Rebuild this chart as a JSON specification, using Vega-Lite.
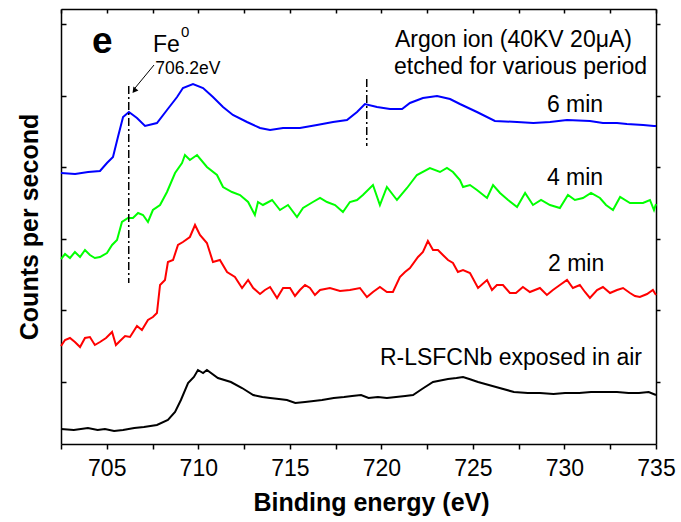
{
  "$schema": "https://vega.github.io/schema/vega-lite/v6.json",
  "width": 595,
  "height": 435,
  "padding": {"left": 61, "top": 9, "right": 25, "bottom": 78},
  "autosize": {"type": "none"},
  "config": {
    "view": {"stroke": null},
    "font": "Liberation Sans",
    "axis": {"domainColor": "black", "domainWidth": 1.5, "tickColor": "black", "tickWidth": 1.5, "grid": false, "labelColor": "black", "titleColor": "black", "labelFont": "Liberation Sans", "titleFont": "Liberation Sans"}
  },
  "datasets": {
    "spectra": [
      {"series":"6 min","energy":702.5,"counts":271},{"series":"6 min","energy":703.27,"counts":270},{"series":"6 min","energy":703.98,"counts":272},{"series":"6 min","energy":704.63,"counts":273},{"series":"6 min","energy":705.01,"counts":281},{"series":"6 min","energy":705.34,"counts":287},{"series":"6 min","energy":705.61,"counts":307},{"series":"6 min","energy":705.89,"counts":327},{"series":"6 min","energy":706.21,"counts":332},{"series":"6 min","energy":706.65,"counts":326},{"series":"6 min","energy":707.09,"counts":318},{"series":"6 min","energy":707.74,"counts":321},{"series":"6 min","energy":708.29,"counts":334},{"series":"6 min","energy":708.84,"counts":347},{"series":"6 min","energy":709.16,"counts":356},{"series":"6 min","energy":709.71,"counts":360},{"series":"6 min","energy":710.26,"counts":356},{"series":"6 min","energy":710.8,"counts":347},{"series":"6 min","energy":711.35,"counts":337},{"series":"6 min","energy":711.89,"counts":329},{"series":"6 min","energy":712.66,"counts":322},{"series":"6 min","energy":713.37,"counts":316},{"series":"6 min","energy":713.92,"counts":314},{"series":"6 min","energy":714.63,"counts":316},{"series":"6 min","energy":715.55,"counts":316},{"series":"6 min","energy":716.48,"counts":319},{"series":"6 min","energy":717.36,"counts":322},{"series":"6 min","energy":718.12,"counts":324},{"series":"6 min","energy":718.67,"counts":332},{"series":"6 min","energy":719.1,"counts":340},{"series":"6 min","energy":719.76,"counts":337},{"series":"6 min","energy":720.47,"counts":335},{"series":"6 min","energy":721.13,"counts":335},{"series":"6 min","energy":721.56,"counts":341},{"series":"6 min","energy":722.27,"counts":346},{"series":"6 min","energy":723.04,"counts":348},{"series":"6 min","energy":723.75,"counts":345},{"series":"6 min","energy":724.29,"counts":340},{"series":"6 min","energy":725.22,"counts":332},{"series":"6 min","energy":726.2,"counts":323},{"series":"6 min","energy":727.41,"counts":322},{"series":"6 min","energy":728.3,"counts":321},{"series":"6 min","energy":729.21,"counts":322},{"series":"6 min","energy":730.14,"counts":324},{"series":"6 min","energy":731.39,"counts":323},{"series":"6 min","energy":732.1,"counts":321},{"series":"6 min","energy":732.87,"counts":321},{"series":"6 min","energy":733.41,"counts":320},{"series":"6 min","energy":734.3,"counts":319},{"series":"6 min","energy":734.89,"counts":318},{"series":"6 min","energy":735,"counts":318},
      {"series":"4 min","energy":702.5,"counts":185},{"series":"4 min","energy":702.72,"counts":190},{"series":"4 min","energy":702.99,"counts":186},{"series":"4 min","energy":703.26,"counts":192},{"series":"4 min","energy":703.54,"counts":187},{"series":"4 min","energy":703.81,"counts":194},{"series":"4 min","energy":704.08,"counts":189},{"series":"4 min","energy":704.35,"counts":186},{"series":"4 min","energy":704.63,"counts":187},{"series":"4 min","energy":705.01,"counts":191},{"series":"4 min","energy":705.29,"counts":199},{"series":"4 min","energy":705.56,"counts":204},{"series":"4 min","energy":705.83,"counts":222},{"series":"4 min","energy":706.16,"counts":226},{"series":"4 min","energy":706.43,"counts":226},{"series":"4 min","energy":706.71,"counts":231},{"series":"4 min","energy":706.98,"counts":229},{"series":"4 min","energy":707.25,"counts":222},{"series":"4 min","energy":707.52,"counts":234},{"series":"4 min","energy":707.91,"counts":239},{"series":"4 min","energy":708.29,"counts":252},{"series":"4 min","energy":708.73,"counts":271},{"series":"4 min","energy":709.11,"counts":281},{"series":"4 min","energy":709.27,"counts":289},{"series":"4 min","energy":709.54,"counts":284},{"series":"4 min","energy":709.93,"counts":289},{"series":"4 min","energy":710.47,"counts":277},{"series":"4 min","energy":711.02,"counts":269},{"series":"4 min","energy":711.35,"counts":257},{"series":"4 min","energy":711.84,"counts":252},{"series":"4 min","energy":712.28,"counts":249},{"series":"4 min","energy":712.72,"counts":242},{"series":"4 min","energy":713.09,"counts":229},{"series":"4 min","energy":713.26,"counts":242},{"series":"4 min","energy":713.53,"counts":239},{"series":"4 min","energy":714.03,"counts":244},{"series":"4 min","energy":714.46,"counts":234},{"series":"4 min","energy":714.9,"counts":239},{"series":"4 min","energy":715.39,"counts":227},{"series":"4 min","energy":715.72,"counts":236},{"series":"4 min","energy":716.26,"counts":242},{"series":"4 min","energy":716.65,"counts":246},{"series":"4 min","energy":717.03,"counts":242},{"series":"4 min","energy":717.47,"counts":239},{"series":"4 min","energy":717.9,"counts":232},{"series":"4 min","energy":718.28,"counts":242},{"series":"4 min","energy":718.67,"counts":244},{"series":"4 min","energy":718.99,"counts":249},{"series":"4 min","energy":719.54,"counts":259},{"series":"4 min","energy":719.92,"counts":239},{"series":"4 min","energy":720.3,"counts":257},{"series":"4 min","energy":720.85,"counts":244},{"series":"4 min","energy":721.4,"counts":256},{"series":"4 min","energy":721.94,"counts":269},{"series":"4 min","energy":722.65,"counts":276},{"series":"4 min","energy":723.2,"counts":272},{"series":"4 min","energy":723.58,"counts":276},{"series":"4 min","energy":723.91,"counts":272},{"series":"4 min","energy":724.29,"counts":264},{"series":"4 min","energy":724.46,"counts":257},{"series":"4 min","energy":724.84,"counts":259},{"series":"4 min","energy":725.22,"counts":254},{"series":"4 min","energy":725.77,"counts":246},{"series":"4 min","energy":726.1,"counts":259},{"series":"4 min","energy":726.48,"counts":251},{"series":"4 min","energy":726.92,"counts":244},{"series":"4 min","energy":727.41,"counts":237},{"series":"4 min","energy":727.85,"counts":251},{"series":"4 min","energy":728.28,"counts":239},{"series":"4 min","energy":728.72,"counts":244},{"series":"4 min","energy":729.21,"counts":239},{"series":"4 min","energy":729.75,"counts":236},{"series":"4 min","energy":730.19,"counts":249},{"series":"4 min","energy":730.57,"counts":244},{"series":"4 min","energy":731.01,"counts":246},{"series":"4 min","energy":731.45,"counts":251},{"series":"4 min","energy":731.94,"counts":246},{"series":"4 min","energy":732.27,"counts":239},{"series":"4 min","energy":732.65,"counts":234},{"series":"4 min","energy":733.04,"counts":247},{"series":"4 min","energy":733.58,"counts":241},{"series":"4 min","energy":734.29,"counts":241},{"series":"4 min","energy":734.67,"counts":244},{"series":"4 min","energy":734.89,"counts":234},{"series":"4 min","energy":735,"counts":240},
      {"series":"2 min","energy":702.5,"counts":98},{"series":"2 min","energy":702.72,"counts":104},{"series":"2 min","energy":702.99,"counts":106},{"series":"2 min","energy":703.26,"counts":102},{"series":"2 min","energy":703.54,"counts":97},{"series":"2 min","energy":703.81,"counts":106},{"series":"2 min","energy":704.08,"counts":107},{"series":"2 min","energy":704.35,"counts":99},{"series":"2 min","energy":704.63,"counts":102},{"series":"2 min","energy":704.96,"counts":106},{"series":"2 min","energy":705.29,"counts":112},{"series":"2 min","energy":705.5,"counts":99},{"series":"2 min","energy":705.72,"counts":103},{"series":"2 min","energy":706.0,"counts":108},{"series":"2 min","energy":706.27,"counts":107},{"series":"2 min","energy":706.65,"counts":118},{"series":"2 min","energy":706.92,"counts":114},{"series":"2 min","energy":707.25,"counts":124},{"series":"2 min","energy":707.52,"counts":127},{"series":"2 min","energy":707.74,"counts":131},{"series":"2 min","energy":707.91,"counts":159},{"series":"2 min","energy":708.18,"counts":164},{"series":"2 min","energy":708.34,"counts":182},{"series":"2 min","energy":708.62,"counts":184},{"series":"2 min","energy":708.89,"counts":199},{"series":"2 min","energy":709.16,"counts":202},{"series":"2 min","energy":709.54,"counts":207},{"series":"2 min","energy":709.82,"counts":219},{"series":"2 min","energy":710.09,"counts":209},{"series":"2 min","energy":710.47,"counts":201},{"series":"2 min","energy":710.8,"counts":182},{"series":"2 min","energy":711.18,"counts":184},{"series":"2 min","energy":711.57,"counts":172},{"series":"2 min","energy":712.0,"counts":167},{"series":"2 min","energy":712.39,"counts":156},{"series":"2 min","energy":712.72,"counts":164},{"series":"2 min","energy":713.0,"counts":156},{"series":"2 min","energy":713.37,"counts":150},{"series":"2 min","energy":713.64,"counts":154},{"series":"2 min","energy":713.92,"counts":157},{"series":"2 min","energy":714.3,"counts":146},{"series":"2 min","energy":714.63,"counts":156},{"series":"2 min","energy":715.01,"counts":156},{"series":"2 min","energy":715.28,"counts":148},{"series":"2 min","energy":715.55,"counts":154},{"series":"2 min","energy":715.83,"counts":159},{"series":"2 min","energy":716.1,"counts":156},{"series":"2 min","energy":716.37,"counts":149},{"series":"2 min","energy":716.65,"counts":154},{"series":"2 min","energy":717.19,"counts":156},{"series":"2 min","energy":717.74,"counts":153},{"series":"2 min","energy":718.28,"counts":154},{"series":"2 min","energy":718.83,"counts":156},{"series":"2 min","energy":719.21,"counts":147},{"series":"2 min","energy":719.54,"counts":152},{"series":"2 min","energy":719.92,"counts":157},{"series":"2 min","energy":720.3,"counts":152},{"series":"2 min","energy":720.63,"counts":152},{"series":"2 min","energy":721.01,"counts":167},{"series":"2 min","energy":721.29,"counts":172},{"series":"2 min","energy":721.56,"counts":176},{"series":"2 min","energy":722.0,"counts":187},{"series":"2 min","energy":722.27,"counts":192},{"series":"2 min","energy":722.54,"counts":203},{"series":"2 min","energy":722.82,"counts":194},{"series":"2 min","energy":723.09,"counts":194},{"series":"2 min","energy":723.36,"counts":189},{"series":"2 min","energy":723.64,"counts":184},{"series":"2 min","energy":723.91,"counts":181},{"series":"2 min","energy":724.18,"counts":172},{"series":"2 min","energy":724.46,"counts":174},{"series":"2 min","energy":724.84,"counts":171},{"series":"2 min","energy":725.28,"counts":156},{"series":"2 min","energy":725.77,"counts":164},{"series":"2 min","energy":726.04,"counts":154},{"series":"2 min","energy":726.31,"counts":159},{"series":"2 min","energy":726.64,"counts":159},{"series":"2 min","energy":727.02,"counts":151},{"series":"2 min","energy":727.35,"counts":151},{"series":"2 min","energy":727.73,"counts":157},{"series":"2 min","energy":728.11,"counts":152},{"series":"2 min","energy":728.66,"counts":156},{"series":"2 min","energy":729.04,"counts":149},{"series":"2 min","energy":729.37,"counts":154},{"series":"2 min","energy":729.75,"counts":159},{"series":"2 min","energy":730.14,"counts":164},{"series":"2 min","energy":730.46,"counts":156},{"series":"2 min","energy":730.84,"counts":159},{"series":"2 min","energy":731.12,"counts":152},{"series":"2 min","energy":731.39,"counts":146},{"series":"2 min","energy":731.78,"counts":154},{"series":"2 min","energy":732.1,"counts":157},{"series":"2 min","energy":732.49,"counts":151},{"series":"2 min","energy":732.87,"counts":154},{"series":"2 min","energy":733.2,"counts":156},{"series":"2 min","energy":733.58,"counts":151},{"series":"2 min","energy":733.85,"counts":148},{"series":"2 min","energy":734.12,"counts":147},{"series":"2 min","energy":734.51,"counts":150},{"series":"2 min","energy":734.83,"counts":154},{"series":"2 min","energy":735,"counts":149},
      {"series":"air","energy":702.5,"counts":15},{"series":"air","energy":703.2,"counts":14},{"series":"air","energy":703.97,"counts":16},{"series":"air","energy":704.5,"counts":14},{"series":"air","energy":704.9,"counts":15},{"series":"air","energy":705.4,"counts":13},{"series":"air","energy":705.89,"counts":14},{"series":"air","energy":706.5,"counts":16},{"series":"air","energy":707.03,"counts":17},{"series":"air","energy":707.74,"counts":19},{"series":"air","energy":708.34,"counts":24},{"series":"air","energy":708.73,"counts":32},{"series":"air","energy":709.05,"counts":44},{"series":"air","energy":709.44,"counts":61},{"series":"air","energy":709.76,"counts":67},{"series":"air","energy":709.98,"counts":74},{"series":"air","energy":710.26,"counts":71},{"series":"air","energy":710.47,"counts":74},{"series":"air","energy":711.07,"counts":66},{"series":"air","energy":711.78,"counts":62},{"series":"air","energy":712.39,"counts":56},{"series":"air","energy":713.0,"counts":49},{"series":"air","energy":713.5,"counts":47},{"series":"air","energy":713.92,"counts":46},{"series":"air","energy":714.4,"counts":45},{"series":"air","energy":714.84,"counts":44},{"series":"air","energy":715.3,"counts":41},{"series":"air","energy":715.83,"counts":42},{"series":"air","energy":716.3,"counts":43},{"series":"air","energy":716.76,"counts":44},{"series":"air","energy":717.4,"counts":46},{"series":"air","energy":717.96,"counts":47},{"series":"air","energy":718.4,"counts":48},{"series":"air","energy":718.89,"counts":49},{"series":"air","energy":719.3,"counts":46},{"series":"air","energy":719.81,"counts":47},{"series":"air","energy":720.3,"counts":46},{"series":"air","energy":720.8,"counts":47},{"series":"air","energy":721.3,"counts":48},{"series":"air","energy":721.73,"counts":49},{"series":"air","energy":722.22,"counts":55},{"series":"air","energy":722.82,"counts":62},{"series":"air","energy":723.64,"counts":65},{"series":"air","energy":724.1,"counts":66},{"series":"air","energy":724.46,"counts":67},{"series":"air","energy":724.8,"counts":65},{"series":"air","energy":725.28,"counts":62},{"series":"air","energy":726.26,"counts":57},{"series":"air","energy":727.24,"counts":52},{"series":"air","energy":728.0,"counts":51},{"series":"air","energy":728.66,"counts":51},{"series":"air","energy":729.4,"counts":50},{"series":"air","energy":730.03,"counts":51},{"series":"air","energy":730.8,"counts":51},{"series":"air","energy":731.45,"counts":52},{"series":"air","energy":732.2,"counts":52},{"series":"air","energy":732.87,"counts":52},{"series":"air","energy":733.5,"counts":51},{"series":"air","energy":734.07,"counts":51},{"series":"air","energy":734.6,"counts":52},{"series":"air","energy":735,"counts":49}
    ],
    "markers": [
      {"energy": 706.2, "top": 358, "bottom": 161},
      {"energy": 719.2, "top": 365, "bottom": 298}
    ],
    "arrow": [
      {"energy": 707.58, "counts": 379},
      {"energy": 706.5, "counts": 355}
    ],
    "arrowTip": [
      {"energy": 706.53, "counts": 354}
    ],
    "labels": [
      {"energy": 720.74, "counts": 397, "text": "Argon ion (40KV 20μA)"},
      {"energy": 720.69, "counts": 370, "text": "etched for various period"},
      {"energy": 729.04, "counts": 332, "text": "6 min"},
      {"energy": 729.04, "counts": 259, "text": "4 min"},
      {"energy": 729.1, "counts": 173, "text": "2 min"},
      {"energy": 719.92, "counts": 79, "text": "R-LSFCNb exposed in air"},
      {"energy": 707.52, "counts": 392, "text": "Fe"}
    ],
    "panel": [{"energy": 704.19, "counts": 391, "text": "e"}],
    "sup": [{"energy": 709.05, "counts": 407, "text": "0"}],
    "peak": [{"energy": 707.65, "counts": 370, "text": "706.2eV"}]
  },
  "layer": [
    {
      "data": {"name": "spectra"},
      "mark": {"type": "line", "strokeWidth": 2},
      "encoding": {
        "x": {"field": "energy", "type": "quantitative", "scale": {"domain": [702.5, 735], "nice": false, "zero": false},
          "axis": {"orient": "bottom", "values": [702.5, 705, 707.5, 710, 712.5, 715, 717.5, 720, 722.5, 725, 727.5, 730, 732.5, 735], "format": ".1f", "labelExpr": "datum.value % 5 === 0 ? format(datum.value, 'd') : ''", "labelFontSize": 23, "labelFlush": false, "labelOverlap": false, "tickSize": 5, "labelPadding": 8, "title": "Binding energy (eV)", "titleFontSize": 25, "titleFontWeight": "bold", "titlePadding": 10, "titleX": 310}},
        "y": {"field": "counts", "type": "quantitative", "scale": {"domain": [0, 435], "nice": false, "zero": false},
          "axis": {"orient": "left", "values": [62.5, 134, 205.5, 277, 348.5, 420], "labels": false, "tickSize": -5, "title": "Counts per second", "titleFontSize": 25, "titleFontWeight": "bold", "titlePadding": 18}},
        "color": {"field": "series", "type": "nominal", "scale": {"domain": ["6 min", "4 min", "2 min", "air"], "range": ["#0000FF", "#00FF00", "#FF0000", "#000000"]}, "legend": null}
      }
    },
    {
      "data": {"name": "markers"},
      "mark": {"type": "rule", "color": "black", "strokeWidth": 1.5, "strokeDash": [8, 3, 2, 3]},
      "encoding": {
        "x": {"field": "energy", "type": "quantitative",
          "axis": {"orient": "top", "values": [702.5, 705, 707.5, 710, 712.5, 715, 717.5, 720, 722.5, 725, 727.5, 730, 732.5, 735], "labels": false, "tickSize": -4, "title": null}},
        "y": {"field": "top", "type": "quantitative",
          "axis": {"orient": "right", "values": [62.5, 134, 205.5, 277, 348.5, 420], "labels": false, "tickSize": 4, "title": null}},
        "y2": {"field": "bottom"}
      }
    },
    {
      "data": {"name": "arrow"},
      "mark": {"type": "line", "color": "black", "strokeWidth": 1},
      "encoding": {
        "x": {"field": "energy", "type": "quantitative", "axis": null},
        "y": {"field": "counts", "type": "quantitative", "axis": null}
      }
    },
    {
      "data": {"name": "arrowTip"},
      "mark": {"type": "point", "shape": "triangle", "filled": true, "color": "black", "size": 40, "angle": 218, "opacity": 1},
      "encoding": {
        "x": {"field": "energy", "type": "quantitative", "axis": null},
        "y": {"field": "counts", "type": "quantitative", "axis": null}
      }
    },
    {
      "data": {"name": "labels"},
      "mark": {"type": "text", "align": "left", "baseline": "alphabetic", "fontSize": 23, "color": "black", "font": "Liberation Sans"},
      "encoding": {
        "x": {"field": "energy", "type": "quantitative", "axis": null},
        "y": {"field": "counts", "type": "quantitative", "axis": null},
        "text": {"field": "text"}
      }
    },
    {
      "data": {"name": "panel"},
      "mark": {"type": "text", "align": "left", "baseline": "alphabetic", "fontSize": 37, "fontWeight": "bold", "color": "black", "font": "Liberation Sans"},
      "encoding": {
        "x": {"field": "energy", "type": "quantitative", "axis": null},
        "y": {"field": "counts", "type": "quantitative", "axis": null},
        "text": {"field": "text"}
      }
    },
    {
      "data": {"name": "sup"},
      "mark": {"type": "text", "align": "left", "baseline": "alphabetic", "fontSize": 15, "color": "black", "font": "Liberation Sans"},
      "encoding": {
        "x": {"field": "energy", "type": "quantitative", "axis": null},
        "y": {"field": "counts", "type": "quantitative", "axis": null},
        "text": {"field": "text"}
      }
    },
    {
      "data": {"name": "peak"},
      "mark": {"type": "text", "align": "left", "baseline": "alphabetic", "fontSize": 17.5, "color": "black", "font": "Liberation Sans"},
      "encoding": {
        "x": {"field": "energy", "type": "quantitative", "axis": null},
        "y": {"field": "counts", "type": "quantitative", "axis": null},
        "text": {"field": "text"}
      }
    }
  ],
  "resolve": {"axis": {"x": "independent", "y": "independent"}}
}
